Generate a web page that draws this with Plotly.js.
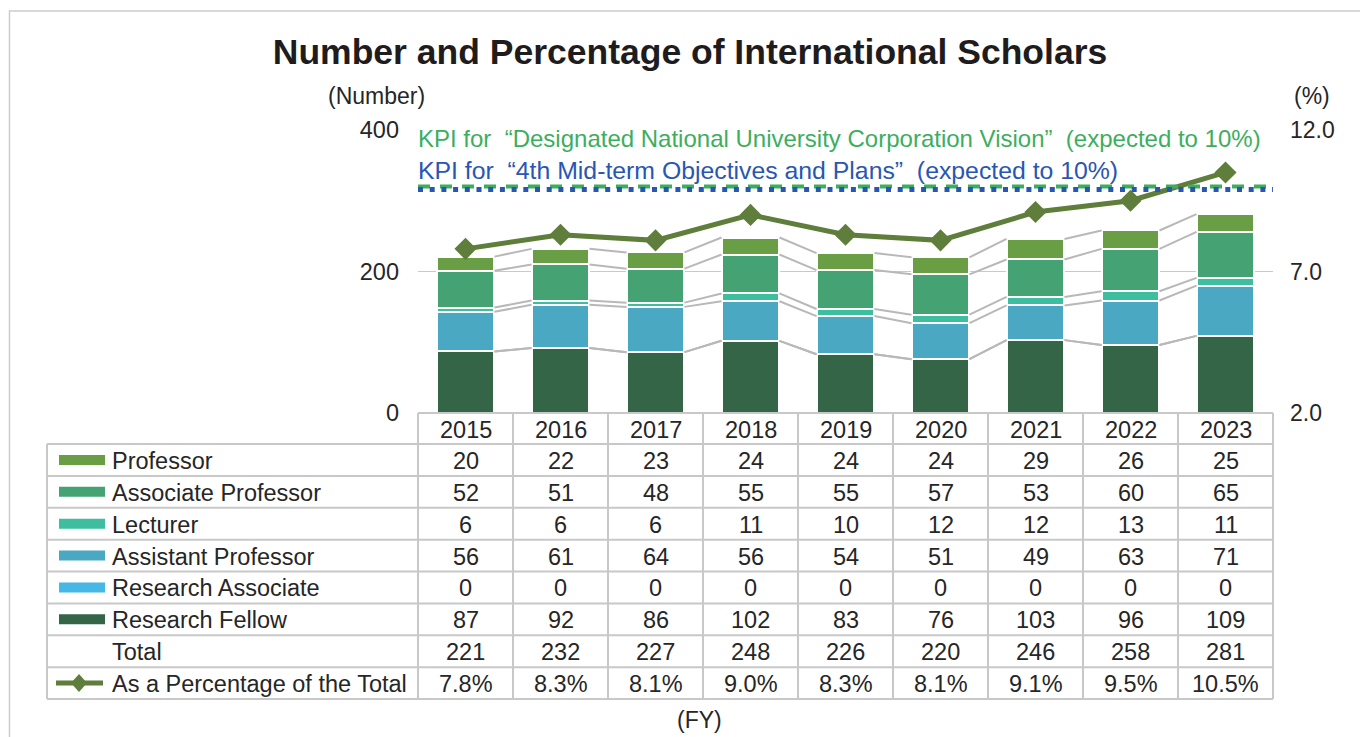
<!DOCTYPE html>
<html>
<head>
<meta charset="utf-8">
<script src="https://cdn.plot.ly/plotly-3.0.1.min.js"></script>
<style>html,body{margin:0;padding:0;background:#fff;}#chart{width:1360px;height:737px;}</style>
</head>
<body>
<div id="chart"></div>
<script>
// ---- data ----
const years = ['2015','2016','2017','2018','2019','2020','2021','2022','2023'];
const professor = [20,22,23,24,24,24,29,26,25];
const assocProfessor = [52,51,48,55,55,57,53,60,65];
const lecturer = [6,6,6,11,10,12,12,13,11];
const asstProfessor = [56,61,64,56,54,51,49,63,71];
const researchAssociate = [0,0,0,0,0,0,0,0,0];
const researchFellow = [87,92,86,102,83,76,103,96,109];
const totals = [221,232,227,248,226,220,246,258,281];
const pctOfTotal = [7.8,8.3,8.1,9.0,8.3,8.1,9.1,9.5,10.5];
const kpiTarget = 10;
const seriesNames = ['Professor','Associate Professor','Lecturer','Assistant Professor','Research Associate','Research Fellow'];
const leftTicks = [0,200,400];
const rightTicks = [2,7,12];

// ---- styles ----
const FONT = 'Liberation Sans, Arial, sans-serif';
const TXT = '#262626';
const colors = {
  'Professor':'#6A9E45','Associate Professor':'#45A273','Lecturer':'#3DBF9F',
  'Assistant Professor':'#4BA8C3','Research Associate':'#45B8E5','Research Fellow':'#356547'
};
const lineColor = '#5F7D3B';
const gridColor = '#C9C9C9';
const PL=418, PR=1273, PT=130, PB=413;
const px = x => (x-PL)/(PR-PL);
const py = y => (PB-y)/(PB-PT);

const n = years.length;
const xs = years.map((_,i)=>i);
const barW = 0.61;
const valuesByName = {
  'Professor':professor,'Associate Professor':assocProfessor,'Lecturer':lecturer,
  'Assistant Professor':asstProfessor,'Research Associate':researchAssociate,'Research Fellow':researchFellow
};
const stackOrder = ['Research Fellow','Research Associate','Assistant Professor','Lecturer','Associate Professor','Professor'];

const traces = [];
// series lines (connectors between stacked bars)
const cum = xs.map(()=>0);
const sx=[], sy=[];
stackOrder.forEach(name=>{
  const v = valuesByName[name];
  xs.forEach(i=>{cum[i]+=v[i];});
  for(let i=0;i<n-1;i++){
    sx.push(i+barW/2, i+1-barW/2, null);
    sy.push(cum[i], cum[i+1], null);
  }
});
traces.push({type:'scatter',mode:'lines',x:sx,y:sy,line:{color:'#B8B8B8',width:2},hoverinfo:'skip',showlegend:false});

stackOrder.forEach(name=>{
  traces.push({type:'bar',name:name,x:xs,y:valuesByName[name],width:barW,
    marker:{color:colors[name],line:{color:'#ffffff',width:2}},showlegend:false});
});
traces.push({type:'scatter',mode:'lines+markers',x:xs,y:pctOfTotal,yaxis:'y2',
  line:{color:lineColor,width:5},marker:{symbol:'diamond',size:17,color:lineColor},
  cliponaxis:false,showlegend:false,name:'As a Percentage of the Total'});

// ---- table ----
const shapes = [];
const annotations = [];
const rowTop = 444, rowH = (699-444)/8;
const tableLeft = 47;
const lineStyle = {color:'#C8C8C8',width:2};
shapes.push({type:'line',xref:'paper',yref:'paper',x0:0,x1:1,y0:py(PB),y1:py(PB),line:lineStyle});
for(let k=0;k<=8;k++){
  const y = rowTop + k*rowH;
  shapes.push({type:'line',xref:'paper',yref:'paper',x0:px(tableLeft),x1:1,y0:py(y),y1:py(y),line:lineStyle});
}
for(let k=0;k<=n;k++){
  shapes.push({type:'line',xref:'paper',yref:'paper',x0:k/n,x1:k/n,y0:py(PB),y1:py(699),line:lineStyle});
}
shapes.push({type:'line',xref:'paper',yref:'paper',x0:px(tableLeft),x1:px(tableLeft),y0:py(rowTop),y1:py(699),line:lineStyle});

const tf = {family:FONT,size:23.5,color:TXT};
years.forEach((yr,i)=>{
  annotations.push({xref:'paper',yref:'paper',x:(i+0.5)/n,y:py((PB+rowTop)/2+1),text:yr,showarrow:false,font:tf,xanchor:'center',yanchor:'middle'});
});
const rowLabels = seriesNames.concat(['Total','As a Percentage of the Total']);
const rowData = seriesNames.map(nm=>valuesByName[nm].map(String))
  .concat([totals.map(String), pctOfTotal.map(v=>v.toFixed(1)+'%')]);
rowLabels.forEach((lab,r)=>{
  const cy = rowTop + (r+0.5)*rowH;
  annotations.push({xref:'paper',yref:'paper',x:px(110),y:py(cy+1),text:lab,showarrow:false,font:tf,xanchor:'left',yanchor:'middle'});
  rowData[r].forEach((t,i)=>{
    annotations.push({xref:'paper',yref:'paper',x:(i+0.5)/n,y:py(cy+1),text:t,showarrow:false,font:tf,xanchor:'center',yanchor:'middle'});
  });
  if(r<seriesNames.length){
    shapes.push({type:'rect',xref:'paper',yref:'paper',x0:px(59),x1:px(105),y0:py(cy+5),y1:py(cy-5),
      fillcolor:colors[lab],line:{width:0}});
  } else if(r===rowLabels.length-1){
    shapes.push({type:'line',xref:'paper',yref:'paper',x0:px(56),x1:px(103),y0:py(cy),y1:py(cy),line:{color:lineColor,width:5}});
    const cx=79;
    shapes.push({type:'path',xref:'paper',yref:'paper',
      path:`M${px(cx-8)},${py(cy)} L${px(cx)},${py(cy-9)} L${px(cx+8)},${py(cy)} L${px(cx)},${py(cy+9)} Z`,
      fillcolor:lineColor,line:{width:0}});
  }
});

// KPI lines
shapes.push({type:'line',xref:'paper',yref:'y2',x0:0,x1:1,y0:kpiTarget,y1:kpiTarget,line:{color:'#3DAE5E',width:4,dash:'12px,10px'}});
shapes.push({type:'line',xref:'paper',yref:'y2',ysizemode:'pixel',yanchor:kpiTarget,x0:0,x1:1,y0:-3,y1:-3,line:{color:'#2856B2',width:5,dash:'5px,6.7px'}});
// full-width style quotation marks (a little extra space around the marks)
const q1 = '\u00a0\u201c';
const q2 = '\u201d\u00a0';
annotations.push({xref:'paper',yref:'paper',x:px(416),y:py(138),text:'KPI for '+q1+'Designated National University Corporation Vision'+q2+' (expected to 10%)',
  showarrow:false,font:{family:FONT,size:24,color:'#3DAE5E'},xanchor:'left',yanchor:'middle'});
annotations.push({xref:'paper',yref:'paper',x:px(416),y:py(170),text:'KPI for '+q1+'4th Mid-term Objectives and Plans'+q2+' (expected to 10%)',
  showarrow:false,font:{family:FONT,size:24.8,color:'#2856B2'},xanchor:'left',yanchor:'middle'});

// axis unit labels
const uf = {family:FONT,size:23,color:TXT};
annotations.push({xref:'paper',yref:'paper',x:px(376),y:py(96),text:'(Number)',showarrow:false,font:uf,xanchor:'center',yanchor:'middle'});
annotations.push({xref:'paper',yref:'paper',x:px(1312),y:py(96),text:'(%)',showarrow:false,font:uf,xanchor:'center',yanchor:'middle'});
annotations.push({xref:'paper',yref:'paper',x:px(699),y:py(720),text:'(FY)',showarrow:false,font:uf,xanchor:'center',yanchor:'middle'});

// outer border
shapes.push({type:'rect',xref:'paper',yref:'paper',x0:px(9.5),x1:px(1380),y0:py(11),y1:py(760),line:{color:'#CCCCCC',width:1.5},fillcolor:'rgba(0,0,0,0)',layer:'below'});

const layout = {
  width:1360,height:737,
  margin:{l:PL,r:1360-PR,t:PT,b:737-PB,pad:0},
  paper_bgcolor:'#ffffff',plot_bgcolor:'#ffffff',
  font:{family:FONT,color:TXT},
  title:{text:'<b>Number and Percentage of International Scholars</b>',x:690/1360,xref:'container',xanchor:'center',
    y:1-52/737,yref:'container',yanchor:'middle',font:{family:FONT,size:35.5,color:'#1f1c1d'}},
  barmode:'stack',
  showlegend:false,
  xaxis:{range:[-0.5,n-0.5],showticklabels:false,ticks:'',showgrid:false,zeroline:false,showline:false,fixedrange:true},
  yaxis:{range:[0,400],tickvals:leftTicks,ticktext:leftTicks.map(String),ticks:'',ticklabelstandoff:18,
    tickfont:{family:FONT,size:23.5,color:TXT},showgrid:true,gridcolor:gridColor,gridwidth:1.5,zeroline:false,showline:false},
  yaxis2:{range:[2,12],overlaying:'y',side:'right',tickvals:rightTicks,ticktext:rightTicks.map(v=>v.toFixed(1)),ticks:'',
    ticklabelstandoff:16,tickfont:{family:FONT,size:23,color:TXT},showgrid:false,zeroline:false,showline:false},
  shapes:shapes,
  annotations:annotations
};
Plotly.newPlot('chart',traces,layout,{displayModeBar:false,staticPlot:true});
</script>
</body>
</html>
